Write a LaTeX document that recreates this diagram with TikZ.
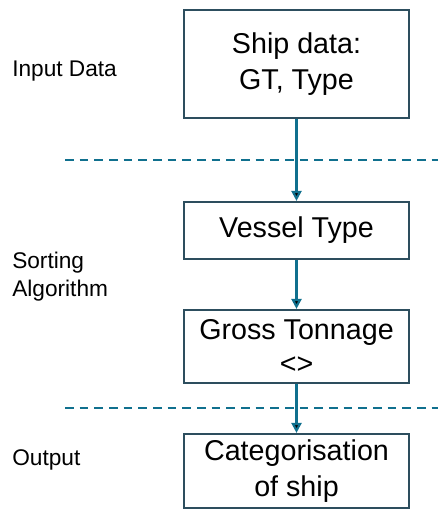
\documentclass[tikz,border=0pt]{standalone}
\usepackage{fontspec}
\setmainfont{Liberation Sans}
\usetikzlibrary{arrows.meta}
\definecolor{boxline}{RGB}{45,78,94}
\definecolor{flow}{RGB}{16,112,142}
\begin{document}
\begin{tikzpicture}[x=0.75pt, y=-0.75pt,
  stage/.style={shape=rectangle, draw=boxline, line width=1.6pt, minimum width=168.75pt, align=center, inner sep=0pt, font=\fontsize{21.5}{27}\selectfont},
  phase/.style={anchor=base west, align=left, inner sep=0pt, font=\fontsize{17}{20.5}\selectfont},
  divider/.style={draw=flow, line width=1.5pt, dash pattern=on 6.5pt off 4.5pt}]
\useasboundingbox (0,0) rectangle (438,520);
\node[phase] (input) at (12,77) {Input Data};
\node[phase] (sorting) at (12,296) {Sorting\\Algorithm};
\node[phase] (output) at (12,465) {Output};
\node[stage, minimum height=81pt] (ship) at (296.5,64) {Ship data:\\GT, Type};
\node[stage, minimum height=42.75pt] (vessel) at (296.5,230.5) {Vessel Type};
\node[stage, minimum height=54.75pt] (gross) at (296.5,346.5) {Gross Tonnage\\[-1pt]\textless\textgreater};
\node[stage, minimum height=55.5pt] (cat) at (296.5,471) {Categorisation\\of ship};
\coordinate (d1a) at (65,160); \coordinate (d1b) at (438,160);
\coordinate (d2a) at (65,408); \coordinate (d2b) at (438,408);
\path [divider] (d1a) -- (d1b);
\path [divider] (d2a) -- (d2b);
\path [-{Triangle[length=7.5pt,width=7.5pt]}, line width=1.6pt, draw=flow] (ship) edge (vessel);
\path [-{Triangle[length=7.5pt,width=7.5pt]}, line width=1.6pt, draw=flow] (vessel) edge (gross);
\path [-{Triangle[length=7.5pt,width=7.5pt]}, line width=1.6pt, draw=flow] (gross) edge (cat);
\end{tikzpicture}
\end{document}
